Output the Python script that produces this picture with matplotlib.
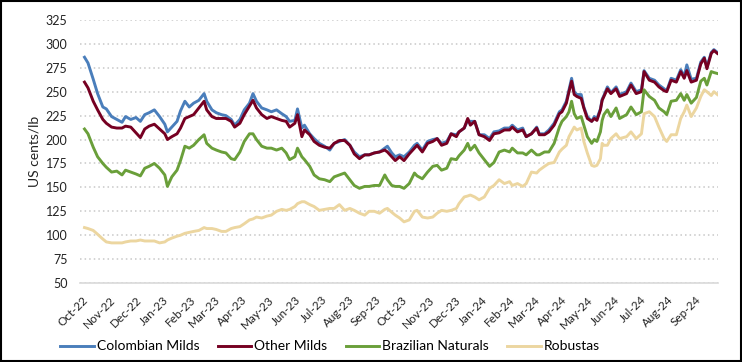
import matplotlib
matplotlib.use("Agg")
import matplotlib.pyplot as plt
import matplotlib.dates as mdates
import pandas as pd
from matplotlib.patches import Rectangle

plt.rcParams['font.family'] = ['Lato', 'DejaVu Sans']

# sample dates
dates = [
    "2022-10-03", "2022-10-07", "2022-10-13", "2022-10-18", "2022-10-24", "2022-10-28",
    "2022-11-03", "2022-11-09", "2022-11-15", "2022-11-19", "2022-11-25",
    "2022-12-01", "2022-12-06", "2022-12-11", "2022-12-16", "2022-12-22", "2022-12-28",
    "2023-01-03", "2023-01-06", "2023-01-11", "2023-01-17", "2023-01-21", "2023-01-26", "2023-01-31",
    "2023-02-05", "2023-02-11", "2023-02-17", "2023-02-20", "2023-02-26",
    "2023-03-03", "2023-03-09", "2023-03-14", "2023-03-20", "2023-03-24", "2023-03-30",
    "2023-04-04", "2023-04-10", "2023-04-14", "2023-04-18", "2023-04-24", "2023-04-30",
    "2023-05-05", "2023-05-11", "2023-05-17", "2023-05-22", "2023-05-26",
    "2023-06-01", "2023-06-04", "2023-06-09", "2023-06-12", "2023-06-18", "2023-06-23", "2023-06-29",
    "2023-07-05", "2023-07-11", "2023-07-16", "2023-07-22", "2023-07-28",
    "2023-08-03", "2023-08-08", "2023-08-14", "2023-08-20", "2023-08-25", "2023-08-31",
    "2023-09-06", "2023-09-12", "2023-09-15", "2023-09-20", "2023-09-24", "2023-09-29",
    "2023-10-04", "2023-10-10", "2023-10-16", "2023-10-19", "2023-10-25", "2023-10-31",
    "2023-11-06", "2023-11-11", "2023-11-16", "2023-11-22", "2023-11-27",
    "2023-12-03", "2023-12-06", "2023-12-12", "2023-12-16", "2023-12-19", "2023-12-24", "2023-12-29",
    "2024-01-04", "2024-01-10", "2024-01-15", "2024-01-21", "2024-01-27",
    "2024-02-02", "2024-02-05", "2024-02-11", "2024-02-17", "2024-02-21", "2024-02-27",
    "2024-03-04", "2024-03-07", "2024-03-13", "2024-03-18", "2024-03-24", "2024-03-30",
    "2024-04-02", "2024-04-07", "2024-04-10", "2024-04-13", "2024-04-16", "2024-04-19", "2024-04-24", "2024-04-27",
    "2024-05-01", "2024-05-06", "2024-05-09", "2024-05-12", "2024-05-16", "2024-05-18", "2024-05-20", "2024-05-24", "2024-05-28",
    "2024-06-03", "2024-06-07", "2024-06-15", "2024-06-20", "2024-06-26",
    "2024-07-02", "2024-07-05", "2024-07-11", "2024-07-17", "2024-07-22", "2024-07-28", "2024-07-31",
    "2024-08-05", "2024-08-11", "2024-08-16", "2024-08-20", "2024-08-23", "2024-08-28",
    "2024-09-03", "2024-09-08", "2024-09-12", "2024-09-15", "2024-09-20", "2024-09-23", "2024-09-27",
]

colombian = [
    286, 280, 263, 248, 234, 232,
    224, 221, 218, 224, 221,
    223, 219, 226, 228, 231, 224,
    216, 208, 213, 219, 230, 240, 234,
    238, 241, 248, 240, 231,
    228, 226, 225, 221, 215, 221,
    231, 238, 248, 240, 233, 231,
    229, 231, 227, 224, 219,
    220, 232, 212, 215, 206, 201, 196,
    193, 189, 196, 198, 200,
    194, 187, 182, 184, 184, 186,
    187, 191, 193, 186, 182, 184,
    182, 187, 194, 196, 189, 198,
    200, 201, 196, 198, 206,
    205, 208, 212, 220, 219, 219, 205,
    205, 201, 208, 209, 212,
    212, 215, 210, 212, 203, 206,
    213, 206, 206, 210, 217, 229,
    231, 240, 252, 264, 250, 247, 247, 234,
    224, 219, 224, 222, 232, 242, 246, 255, 249,
    255, 247, 250, 259, 250,
    252, 272, 264, 262, 257, 253, 251,
    264, 262, 273, 266, 278, 263,
    264, 281, 286, 276, 291, 294, 291,
]

other_milds = [
    260, 254, 240, 231, 221, 217,
    213, 212, 212, 214, 213,
    207, 202, 211, 214, 216, 211,
    206, 200, 203, 206, 212, 222, 224,
    226, 233, 240, 231, 224,
    222, 222, 222, 219, 213, 217,
    226, 235, 241, 233, 226, 222,
    224, 222, 220, 219, 213,
    217, 226, 203, 210, 205, 198, 194,
    192, 191, 196, 199, 199,
    194, 185, 180, 184, 184, 186,
    187, 189, 187, 182, 178, 182,
    178, 185, 191, 194, 187, 196,
    198, 201, 194, 196, 206,
    203, 208, 212, 222, 215, 219, 205,
    203, 199, 206, 207, 210,
    210, 213, 208, 210, 203, 206,
    212, 205, 205, 208, 215, 227,
    229, 238, 250, 261, 247, 245, 243, 233,
    222, 219, 222, 220, 231, 241, 245, 253, 248,
    253, 245, 248, 257, 248,
    250, 271, 262, 260, 255, 251, 250,
    262, 260, 271, 264, 272, 260,
    262, 279, 285, 274, 290, 293, 290,
]

brazilian = [
    211, 206, 192, 182, 175, 171,
    166, 167, 163, 168, 166,
    164, 162, 170, 172, 175, 170,
    163, 151, 161, 168, 178, 193, 191,
    194, 200, 205, 196, 191,
    189, 187, 186, 180, 179, 187,
    198, 206, 206, 200, 193, 191,
    191, 189, 191, 186, 179,
    182, 191, 182, 179, 172, 163, 159,
    158, 156, 161, 163, 165,
    158, 152, 149, 151, 151, 152,
    152, 163, 158, 152, 151, 151,
    149, 154, 165, 162, 159, 166,
    172, 173, 168, 170, 180,
    179, 183, 189, 196, 189, 194, 186,
    179, 172, 176, 187, 189,
    187, 191, 186, 186, 184, 189,
    184, 184, 187, 187, 196, 213,
    219, 224, 229, 240, 227, 222, 224, 215,
    203, 196, 200, 198, 208, 220, 226, 231, 224,
    233, 222, 226, 234, 226,
    229, 252, 245, 241, 233, 229, 226,
    240, 241, 248, 241, 247, 238,
    244, 261, 264, 257, 271, 270, 269,
]

robustas = [
    108, 107, 105, 101, 96, 93,
    92, 92, 92, 93, 94,
    94, 95, 94, 94, 94, 92,
    93, 95, 97, 99, 100, 102, 103,
    104, 105, 108, 107, 107,
    106, 104, 104, 107, 108, 109,
    112, 116, 117, 119, 118, 120,
    121, 125, 127, 126, 127,
    130, 133, 135, 135, 132, 130, 126,
    127, 128, 128, 132, 126,
    128, 126, 123, 121, 125, 125,
    123, 127, 128, 124, 121, 118,
    114, 116, 125, 126, 119, 118,
    119, 123, 126, 125, 126,
    128, 133, 140, 141, 142, 140, 137,
    140, 149, 152, 158, 154,
    156, 152, 154, 151, 154, 166,
    165, 168, 172, 175, 176, 187,
    190, 194, 203, 208, 213, 210, 212, 198,
    186, 173, 172, 173, 180, 196, 194, 194, 201,
    206, 201, 203, 208, 201,
    206, 227, 229, 224, 213, 201, 198,
    205, 205, 222, 229, 236, 224,
    233, 245, 252, 250, 246, 250, 247,
]

series_names = ["Colombian Milds", "Other Milds", "Brazilian Naturals", "Robustas"]
series_colors = ["#4a7ebb", "#760022", "#6a9f3a", "#ecd6a0"]

x = pd.to_datetime(dates)

fig = plt.figure(figsize=(7.42, 3.62), dpi=100)
ax = fig.add_axes([0.108, 0.218, 0.860, 0.727])

for vals, name, col in zip([colombian, other_milds, brazilian, robustas], series_names, series_colors):
    ax.plot(x, vals, color=col, lw=2.1, label=name, solid_joinstyle='round')

ax.set_ylim(50, 325)
ax.set_yticks(range(50, 326, 25))
ax.set_xlim(pd.Timestamp("2022-09-28"), pd.Timestamp("2024-09-28"))
months = pd.date_range("2022-10-01", "2024-09-01", freq="MS")
ax.set_xticks(months)
ax.xaxis.set_major_formatter(mdates.DateFormatter("%b-%y"))
for lbl in ax.get_xticklabels():
    lbl.set_rotation(45)
    lbl.set_ha('right')
    lbl.set_rotation_mode('anchor')

ax.grid(axis='y', linestyle=(0, (1, 2)), color='#c8c8c8', lw=1.1)
ax.set_axisbelow(True)
for s in ['top', 'right', 'left']:
    ax.spines[s].set_visible(False)
ax.spines['bottom'].set_color('#d9d9d9')
ax.spines['bottom'].set_linewidth(1.2)
ax.tick_params(axis='y', length=0, labelsize=9, colors='#222222', pad=9)
ax.tick_params(axis='x', length=0, labelsize=8.5, colors='#222222', pad=8)
ax.set_ylabel("US cents/lb", fontsize=10, color='#222222', labelpad=4)

fig.legend(loc='center', bbox_to_anchor=(0.445, 0.043), ncol=4, frameon=False,
           fontsize=10, handlelength=2.4, handletextpad=0.25, columnspacing=1.3)

fig.patches.append(Rectangle((0.002, 0.003), 0.996, 0.994, transform=fig.transFigure,
                             fill=False, edgecolor='black', lw=1.5))

fig.savefig("out.png", dpi=100)
